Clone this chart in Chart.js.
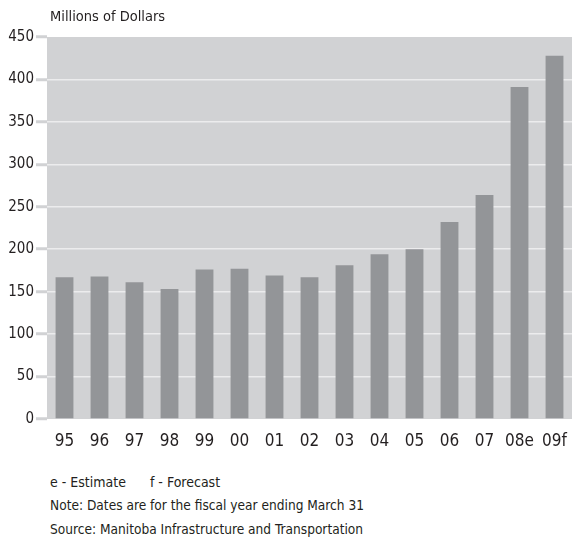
<!DOCTYPE html>
<html><head><meta charset="utf-8">
<script src="https://cdn.jsdelivr.net/npm/chart.js@4.4.1/dist/chart.umd.min.js"></script>
<style>
html,body{margin:0;padding:0;background:#fff;width:575px;height:542px;overflow:hidden;}
body{font-family:"DejaVu Sans Condensed","Liberation Sans Narrow",sans-serif;color:#231f20;position:relative;}
#wrap{position:absolute;left:0;top:0;width:575px;height:460px;}
.t{position:absolute;left:50px;font-size:13.6px;white-space:pre;line-height:1;}
</style></head>
<body>
<div id="wrap"><canvas id="c" width="575" height="460"></canvas></div>
<div class="t" style="top:9px;font-size:14.5px;">Millions of Dollars</div>
<div class="t" style="top:475px;font-size:14px;">e - Estimate      f - Forecast</div>
<div class="t" style="top:499px;">Note: Dates are for the fiscal year ending March 31</div>
<div class="t" style="top:523px;">Source: Manitoba Infrastructure and Transportation</div>
<script>
const categories = ["95","96","97","98","99","00","01","02","03","04","05","06","07","08e","09f"];
const values = [167,168,161,153,176,177,169,167,181,194,200,232,264,391,428];
const yTicks = [0,50,100,150,200,250,300,350,400,450];
const FONT = '"DejaVu Sans Condensed","Liberation Sans Narrow",sans-serif';

const bgPlugin = {
  id:'bg',
  beforeDraw(chart){
    const {ctx, chartArea:a} = chart;
    ctx.save(); ctx.fillStyle='#d1d2d4';
    ctx.fillRect(a.left,a.top,a.right-a.left,a.bottom-a.top);
    ctx.restore();
  }
};

new Chart(document.getElementById('c'),{
  type:'bar',
  data:{labels:categories,datasets:[{data:values,backgroundColor:'#939598',barPercentage:0.51,categoryPercentage:1.0}]},
  plugins:[bgPlugin],
  options:{
    responsive:false,animation:false,
    layout:{padding:{top:37,right:3,left:0,bottom:0}},
    plugins:{legend:{display:false},tooltip:{enabled:false}},
    scales:{
      x:{
        grid:{display:false,drawTicks:false},border:{display:false},
        ticks:{font:{family:FONT,size:17},color:'#231f20',padding:12,maxRotation:0},
        afterFit(s){s.height=41;s.paddingLeft=0;s.paddingRight=0;}
      },
      y:{
        min:0,max:450,
        afterBuildTicks(s){s.ticks=yTicks.map(v=>({value:v}));},
        border:{display:false},
        grid:{
          color:(c)=>(c.tick&&(c.tick.value===0||c.tick.value===450))?'rgba(0,0,0,0)':'#ececed',
          lineWidth:1.5,tickLength:11,tickColor:'#d1d2d4',tickWidth:3
        },
        ticks:{font:{family:FONT,size:15},color:'#231f20',padding:2},
        afterFit(s){s.width=47;s.paddingTop=0;s.paddingBottom=0;}
      }
    }
  }
});
</script>
</body></html>
